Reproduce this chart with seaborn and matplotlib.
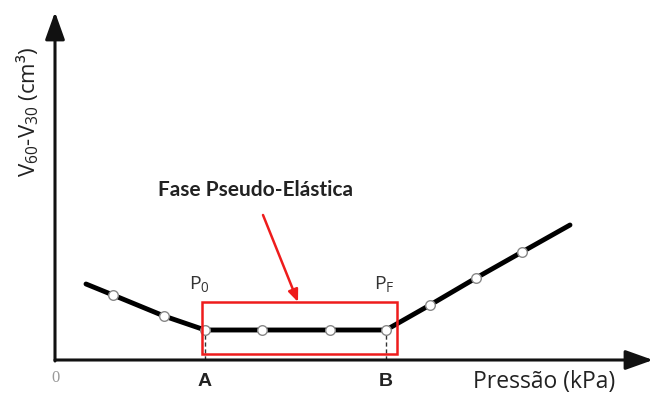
import matplotlib
matplotlib.use("Agg")
import matplotlib.pyplot as plt
import seaborn as sns
import pandas as pd
from matplotlib.patches import Rectangle

# Pressure (x) and volume difference (y), arbitrary units
pressure = [31, 58, 109, 150, 207, 275, 331, 375, 421, 467, 515]
volume = [76, 65, 44, 30, 30, 30, 30, 55, 82, 108, 135]
# Points drawn with open circles (first and last line vertices have none)
marked = [False, True, True, True, True, True, True, True, True, True, False]

p_a, p_b = 150, 331  # start / end of pseudo-elastic phase
box_x0, box_x1, box_y0, box_y1 = 147, 342, 6, 58

df = pd.DataFrame({"pressure": pressure, "volume": volume, "marked": marked})

sns.set_theme(style="white")
plt.rcParams["font.family"] = ["Open Sans", "DejaVu Sans"]

fig = plt.figure(figsize=(6.53, 3.96), dpi=100)
ax = fig.add_axes([0, 0, 1, 1])

# axes with arrow heads
ax.annotate("", xy=(598, 0), xytext=(0, 0),
            arrowprops=dict(arrowstyle="-|>,head_length=1.4,head_width=0.5",
                            lw=2.2, color="#111111", shrinkA=0, shrinkB=0))
ax.annotate("", xy=(0, 348), xytext=(0, -1),
            arrowprops=dict(arrowstyle="-|>,head_length=1.4,head_width=0.5",
                            lw=2.2, color="#111111", shrinkA=0, shrinkB=0))

# dashed guides down to the axis
for px in (p_a, p_b):
    ax.plot([px, px], [0, 30], ls=(0, (3, 2)), color="#333333", lw=1.0)

sns.lineplot(data=df, x="pressure", y="volume", sort=False, ax=ax,
             color="black", lw=3.5, legend=False, zorder=3)
sns.scatterplot(data=df[df["marked"]], x="pressure", y="volume", ax=ax,
                s=48, facecolor="white", edgecolor="#888888", linewidth=1.0,
                legend=False, zorder=4)
ax.set_xlim(-55, 598)
ax.set_ylim(-36, 360)
ax.axis("off")

ax.add_patch(Rectangle((box_x0, box_y0), box_x1 - box_x0, box_y1 - box_y0,
                       fill=False, edgecolor="#ee1c1c", lw=1.8, zorder=5))
ax.annotate("", xy=(243, 58), xytext=(208, 145),
            arrowprops=dict(arrowstyle="-|>,head_length=0.6,head_width=0.25",
                            lw=1.8, color="#ee1c1c", shrinkA=0, shrinkB=0))
ax.text(201, 170, "Fase Pseudo-Elástica", ha="center", va="center",
        fontsize=15, fontweight="bold", color="#222222", family="Lato")

ax.text(p_a - 6, 76, r"$\mathregular{P_0}$", ha="center", va="center",
        fontsize=14, color="#333333")
ax.text(p_b - 2, 76, r"$\mathregular{P_F}$", ha="center", va="center",
        fontsize=14, color="#333333")
ax.text(p_a, -22, "A", ha="center", va="center", fontsize=14,
        fontweight="bold", color="#222222", family="Liberation Sans")
ax.text(p_b, -22, "B", ha="center", va="center", fontsize=14,
        fontweight="bold", color="#222222", family="Liberation Sans")
ax.text(0, -18, "0", ha="center", va="center", fontsize=12,
        color="#999999", family="Liberation Serif")

ax.text(489, -22, "Pressão (kPa)", ha="center", va="center",
        fontsize=16.5, color="#222222")
ax.text(-27, 248, r"$\mathregular{V_{60}}$-$\mathregular{V_{30}}$ (cm³)",
        ha="center", va="center", rotation=90, fontsize=16, color="#222222")

fig.savefig("out.png", dpi=100)
